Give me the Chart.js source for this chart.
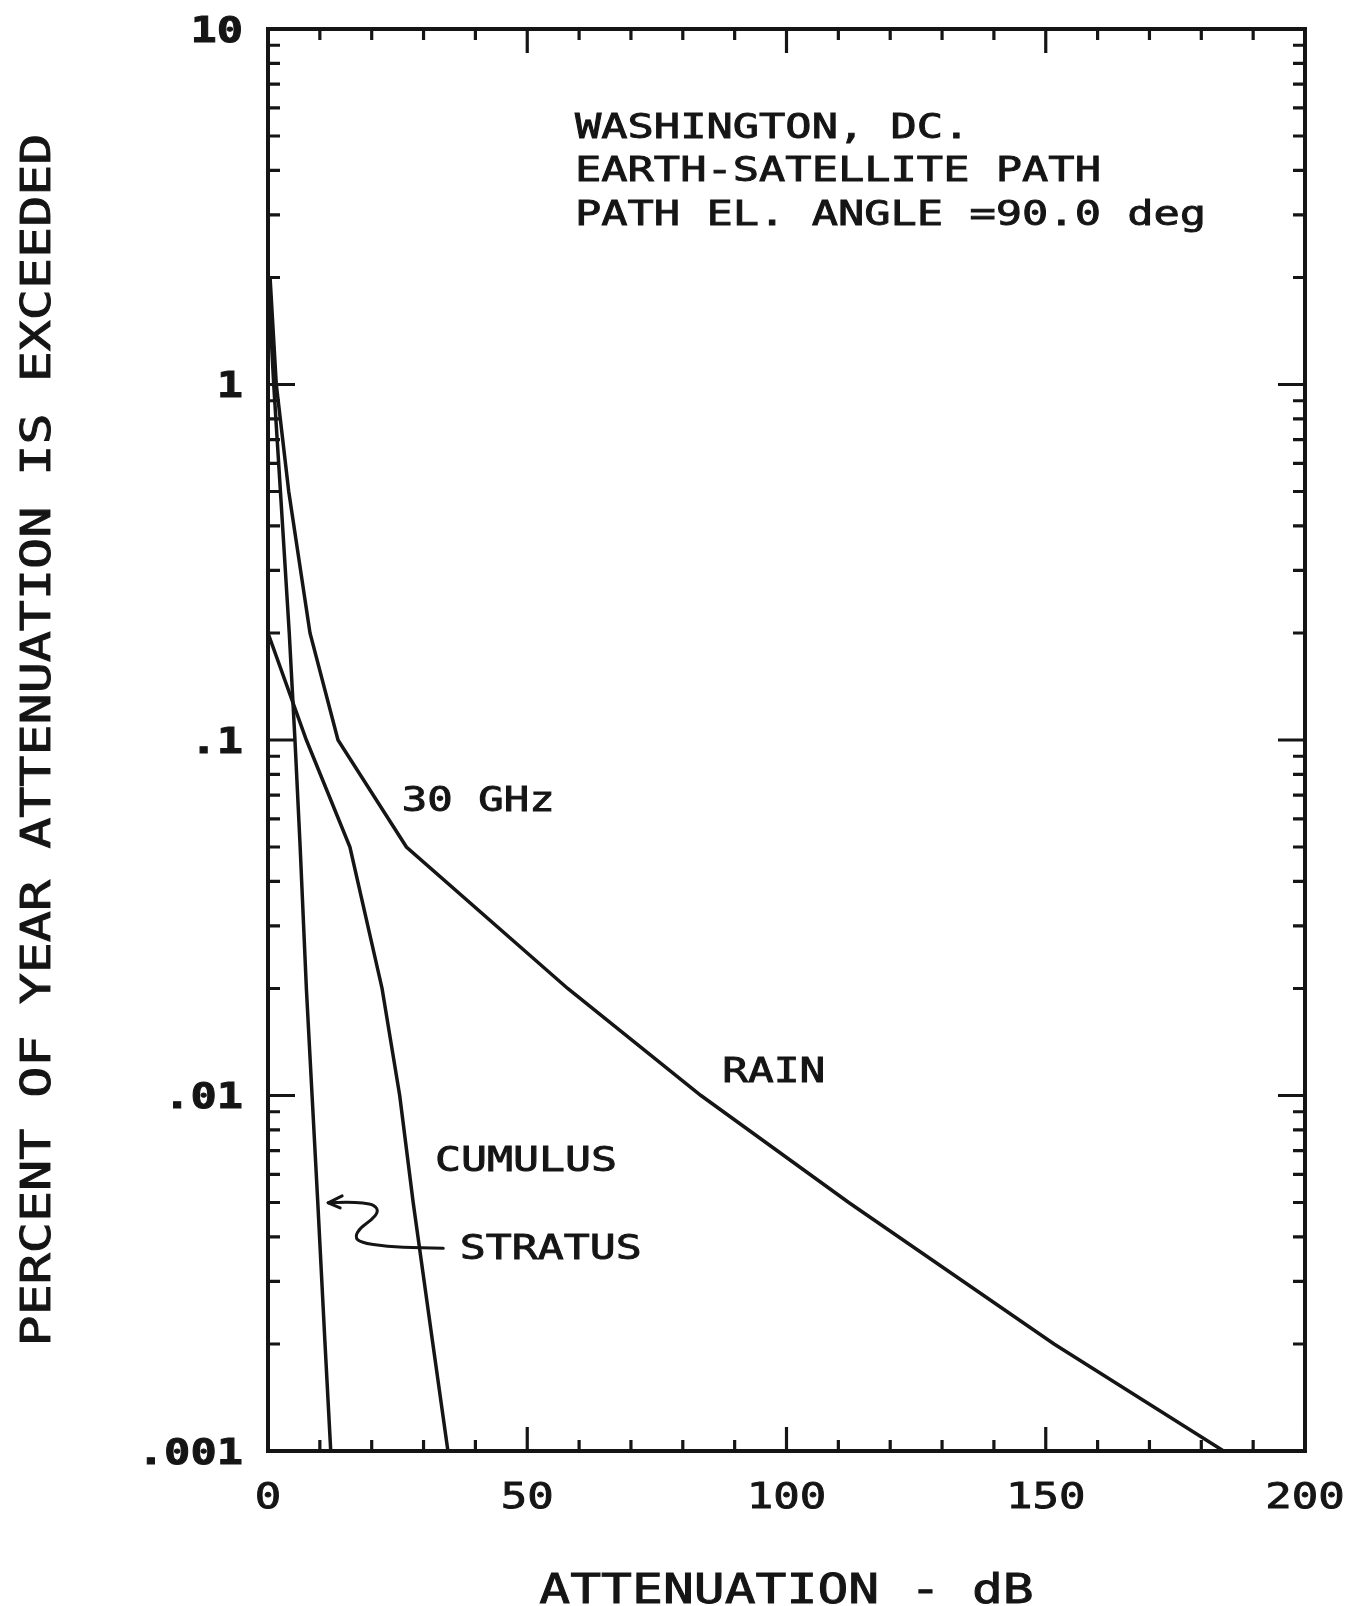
<!DOCTYPE html>
<html lang="en">
<head>
<meta charset="UTF-8">
<title>Washington DC - Earth-Satellite Path Attenuation</title>
<script src="https://cdn.jsdelivr.net/npm/chart.js"></script>
<style>
  html, body { margin: 0; padding: 0; background: #fff; }
  #wrap { width: 1356px; height: 1606px; }
</style>
</head>
<body>
<div id="wrap"><canvas id="attenChart" width="1356" height="1606"></canvas></div>
<script>
// percent of year (y) vs attenuation in dB (x)
const percentLevels = [2, 1, 0.5, 0.2, 0.1, 0.05, 0.02, 0.01, 0.005, 0.002, 0.001];
const rainDb        = [0.4, 1.6, 4.0, 8.1, 13.5, 26.7, 57.8, 83.5, 112, 151.6, 184.3];
const stratusDb     = [0, 1.1, 2.4, 4.1, 5.2, 6.2, 7.4, 8.5, 9.6, 11.0, 12.1];
const cumulusLevels = [0.2, 0.1, 0.05, 0.02, 0.01, 0.005, 0.002, 0.001];
const cumulusDb     = [0, 7.4, 15.8, 22.0, 25.4, 28.0, 31.8, 34.7];

// axes
const xTickValues = [0, 10, 20, 30, 40, 50, 60, 70, 80, 90, 100, 110, 120, 130, 140, 150, 160, 170, 180, 190, 200];
const xLabelValues = [0, 50, 100, 150, 200];
const xLabels = ['0', '50', '100', '150', '200'];
const yDecades = [0.001, 0.01, 0.1, 1, 10];
const yLabels = ['.001', '.01', '.1', '1', '10'];

const INK = '#151515';
const FONT = '"DejaVu Sans Mono"';

function toPoints(xs, ys) {
    return xs.map((x, i) => ({ x: x, y: ys[i] }));
}

// wide plotter-style lettering: mono font stretched to a fixed pitch
function plotterText(ctx, str, x, y, size, pitch, align, rotate, weight) {
    ctx.save();
    ctx.font = (weight || 'normal') + ' ' + size + 'px ' + FONT;
    const adv = ctx.measureText('M').width;
    ctx.translate(x, y);
    if (rotate) ctx.rotate(-Math.PI / 2);
    ctx.scale(pitch / adv, 1);
    ctx.textAlign = align || 'left';
    ctx.textBaseline = 'alphabetic';
    ctx.fillStyle = INK;
    ctx.strokeStyle = INK;
    ctx.lineWidth = 0.9;
    ctx.fillText(str, 0, size * 0.365);
    ctx.strokeText(str, 0, size * 0.365);
    ctx.restore();
}

// annotation path for the "STRATUS" arrow, in data units
const arrowX = [33.8, 29.3, 22.9, 17.7, 16.8, 17.7, 20.0, 21.3, 20.6, 18.4, 15.2, 11.6];
const arrowY = [0.00372, 0.00372, 0.00376, 0.00386, 0.00401, 0.00423, 0.00447, 0.00471, 0.00492, 0.00499, 0.00501, 0.00499];

const framePlugin = {
    id: 'framePlugin',
    afterDraw(chart) {
        const ctx = chart.ctx;
        const a = chart.chartArea;
        const xs = chart.scales.x;
        const ys = chart.scales.y;

        ctx.save();
        ctx.strokeStyle = INK;
        ctx.lineCap = 'butt';

        // frame
        ctx.lineWidth = 4;
        ctx.strokeRect(a.left, a.top, a.right - a.left, a.bottom - a.top);

        // x ticks, inward on bottom and top
        ctx.lineWidth = 3.2;
        xTickValues.forEach(v => {
            const px = xs.getPixelForValue(v);
            const len = v % 50 === 0 ? 24 : 11;
            ctx.beginPath();
            ctx.moveTo(px, a.bottom);
            ctx.lineTo(px, a.bottom - len);
            ctx.moveTo(px, a.top);
            ctx.lineTo(px, a.top + len);
            ctx.stroke();
        });

        // y ticks, inward on left and right
        yDecades.slice(0, 4).forEach(d => {
            for (let m = 1; m <= 9; m++) {
                const py = ys.getPixelForValue(m * d);
                const len = m === 1 ? 27 : 12;
                ctx.beginPath();
                ctx.moveTo(a.left, py);
                ctx.lineTo(a.left + len, py);
                ctx.moveTo(a.right, py);
                ctx.lineTo(a.right - len, py);
                ctx.stroke();
            }
        });

        // tick labels
        yDecades.forEach((d, i) => {
            plotterText(ctx, yLabels[i], a.left - 25, ys.getPixelForValue(d), 35, 26.3, 'right', false, 'bold');
        });
        xLabelValues.forEach((v, i) => {
            plotterText(ctx, xLabels[i], xs.getPixelForValue(v), a.bottom + 44, 36, 26.5, 'center');
        });

        // axis titles
        plotterText(ctx, 'ATTENUATION - dB', (a.left + a.right) / 2, a.bottom + 137, 41, 30.9, 'center');
        plotterText(ctx, 'PERCENT OF YEAR ATTENUATION IS EXCEEDED', 35, (a.top + a.bottom) / 2, 41, 31.1, 'center', true);

        // annotations
        const info = ['WASHINGTON, DC.', 'EARTH-SATELLITE PATH', 'PATH EL. ANGLE =90.0 deg'];
        const ix = xs.getPixelForValue(59.2);
        const iy = ys.getPixelForValue(5.35);
        info.forEach((t, i) => plotterText(ctx, t, ix, iy + i * 43.5, 34, 26.3, 'left'));

        plotterText(ctx, '30 GHz', xs.getPixelForValue(25.8), ys.getPixelForValue(0.0682), 33, 25.5, 'left');
        plotterText(ctx, 'RAIN', xs.getPixelForValue(87.6), ys.getPixelForValue(0.0118), 33, 25.8, 'left');
        plotterText(ctx, 'CUMULUS', xs.getPixelForValue(32.2), ys.getPixelForValue(0.00663), 34, 26.0, 'left');
        plotterText(ctx, 'STRATUS', xs.getPixelForValue(37.0), ys.getPixelForValue(0.00375), 34, 26.0, 'left');

        // hand-drawn arrow to stratus curve
        const pts = arrowX.map((x, i) => ({ x: xs.getPixelForValue(x), y: ys.getPixelForValue(arrowY[i]) }));
        ctx.lineWidth = 3;
        ctx.lineJoin = 'round';
        ctx.lineCap = 'round';
        ctx.beginPath();
        ctx.moveTo(pts[0].x, pts[0].y);
        for (let i = 1; i < pts.length - 1; i++) {
            const mx = (pts[i].x + pts[i + 1].x) / 2;
            const my = (pts[i].y + pts[i + 1].y) / 2;
            ctx.quadraticCurveTo(pts[i].x, pts[i].y, mx, my);
        }
        const tip = pts[pts.length - 1];
        ctx.lineTo(tip.x, tip.y);
        ctx.stroke();
        ctx.beginPath();
        ctx.moveTo(tip.x + 14, tip.y - 7);
        ctx.lineTo(tip.x, tip.y);
        ctx.lineTo(tip.x + 12, tip.y + 5);
        ctx.stroke();

        ctx.restore();
    }
};

const lineStyle = {
    borderColor: INK,
    borderWidth: 3.5,
    pointRadius: 0,
    tension: 0,
    fill: false
};

new Chart(document.getElementById('attenChart'), {
    type: 'line',
    data: {
        datasets: [
            Object.assign({ label: 'Rain 30 GHz', data: toPoints(rainDb, percentLevels) }, lineStyle),
            Object.assign({ label: 'Stratus', data: toPoints(stratusDb, percentLevels) }, lineStyle),
            Object.assign({ label: 'Cumulus', data: toPoints(cumulusDb, cumulusLevels) }, lineStyle)
        ]
    },
    options: {
        responsive: false,
        animation: false,
        layout: { padding: { left: 268, right: 51, top: 29, bottom: 155 } },
        plugins: {
            legend: { display: false },
            tooltip: { enabled: false }
        },
        scales: {
            x: { type: 'linear', min: 0, max: 200, display: false },
            y: { type: 'logarithmic', min: 0.001, max: 10, display: false }
        }
    },
    plugins: [framePlugin]
});
</script>
</body>
</html>
